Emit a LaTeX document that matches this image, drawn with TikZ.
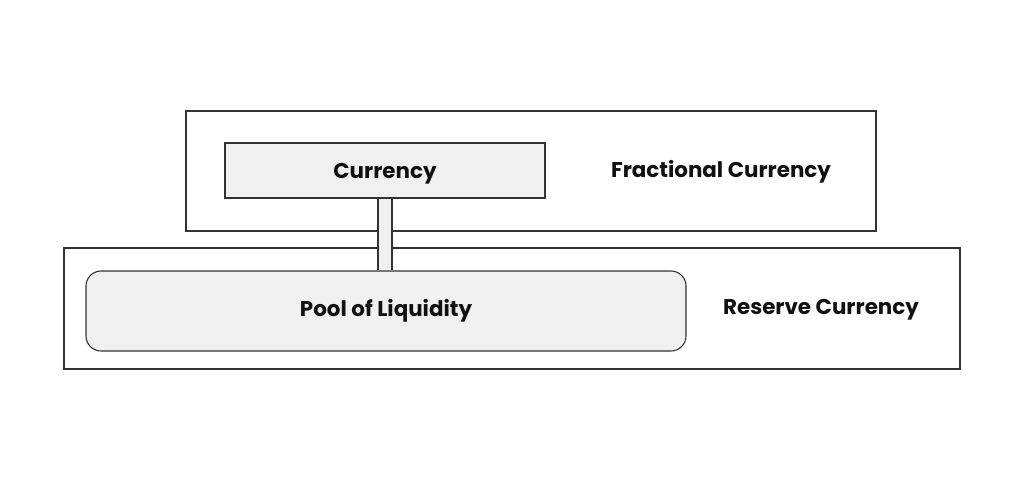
\documentclass[tikz,border=0pt]{standalone}
\usepackage{fontspec}
\setmainfont{Poppins}
\usetikzlibrary{calc}
\definecolor{boxfill}{HTML}{F0F0F0}
\definecolor{edge}{HTML}{333333}
\definecolor{ink}{HTML}{111111}
\begin{document}
\begin{tikzpicture}[x=1pt,y=-1pt,
  frame/.style={draw=edge,line width=1.3pt,fill=white,inner sep=0pt},
  graybox/.style={draw=edge,line width=1.1pt,fill=boxfill,inner sep=0pt,
    text height=15pt,text depth=5pt,
    font=\fontsize{21.4}{24}\selectfont\bfseries,text=ink},
  lbl/.style={font=\fontsize{21.4}{24}\selectfont\bfseries,text=ink,inner sep=0pt}]
\useasboundingbox[fill=white] (0,0) rectangle (1024,480);
\node[frame,minimum width=690pt,minimum height=120pt] (top) at (531,171) {};
\node[frame,minimum width=896pt,minimum height=121pt] (bot) at (512,308.5) {};
\node[lbl] (frac) at (721,172) {Fractional Currency};
\node[lbl] (res) at (821,310) {Reserve Currency};
\node[graybox,minimum width=320pt,minimum height=55pt] (cur) at (385,170.5) {\raisebox{-3pt}{Currency}};
\node[graybox,rounded corners=15pt,minimum width=600pt,minimum height=80pt] (pool) at (386,311) {Pool of Liquidity};
\coordinate (bt) at (cur.south);
\coordinate (bb) at (cur.south |- pool.north);
\fill[boxfill] ($(bt)+(-7,0.6)$) rectangle ($(bb)+(7,-0.6)$);
\draw[edge,line width=1.1pt] ($(bt)+(-7,0)$) -- ($(bb)+(-7,0)$);
\draw[edge,line width=1.1pt] ($(bt)+(7,0)$) -- ($(bb)+(7,0)$);
\end{tikzpicture}
\end{document}
